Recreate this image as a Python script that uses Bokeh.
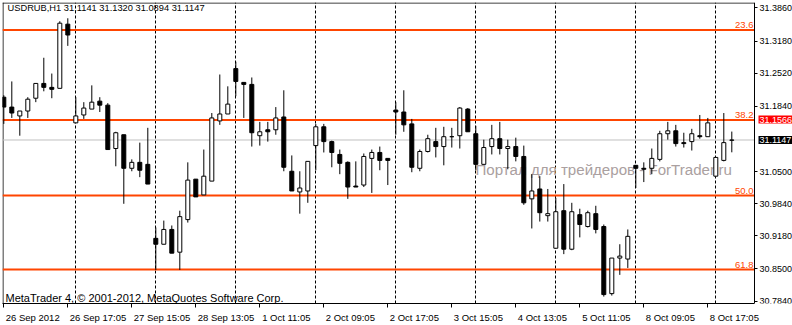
import numpy as np
from bokeh.plotting import figure
from bokeh.models import FixedTicker, Label, Range1d
from bokeh.embed import file_html
from bokeh.resources import INLINE

# ---------------- data ----------------
header = "USDRUB,H1  31.1141 31.1320 31.0894 31.1147"
copyright_text = "MetaTrader 4, \u00a9 2001-2012, MetaQuotes Software Corp."
watermark = "Портал для трейдеров - ForTrader.ru"

opens = [31.2026, 31.1823, 31.1641, 31.1742, 31.2005, 31.2309, 31.2228, 31.2208, 31.3526, 31.1499,
         31.1661, 31.1782, 31.1945, 31.1863, 31.0972, 31.1255, 31.0566, 31.0688, 31.0647, 30.9127,
         30.9006, 30.9310, 30.8843, 30.9512, 31.0343, 31.0019, 31.0303, 31.1539, 31.1681, 31.2613,
         31.2330, 31.2289, 31.1235, 31.1357, 31.1357, 31.1620, 31.0505, 31.0080, 31.0100, 31.1032,
         31.1418, 31.1114, 31.0850, 31.0688, 31.0201, 31.0222, 31.0769, 31.0891, 31.0769, 31.1762,
         31.1722, 31.1478, 31.0566, 31.0911, 31.1114, 31.1012, 31.1215, 31.1235, 31.1782, 31.1276,
         31.0647, 31.1012, 31.1174, 31.0972, 31.1012, 31.0809, 30.9938, 31.0141, 30.9593, 30.8924,
         30.9695, 30.8904, 30.9614, 30.9370, 30.9634, 30.9370, 30.7992, 30.8722, 30.8702, 31.0627,
         31.0566, 31.0566, 31.0749, 31.1276, 31.1336, 31.1093, 31.1114, 31.1235, 31.1215, 31.0404,
         31.0728, 31.1141]
highs = [31.2066, 31.2350, 31.1742, 31.2026, 31.2309, 31.2836, 31.2512, 31.3586, 31.3647, 31.2026,
         31.1924, 31.2269, 31.2026, 31.1904, 31.1316, 31.1255, 31.0749, 31.1093, 31.1397, 30.9350,
         30.9492, 30.9391, 30.9695, 31.0688, 31.0343, 31.0951, 31.1701, 31.2492, 31.2249, 31.2755,
         31.2330, 31.2431, 31.1519, 31.1519, 31.1823, 31.2168, 31.0830, 31.0505, 31.0708, 31.1478,
         31.1478, 31.1134, 31.0951, 31.0708, 31.0708, 31.0870, 31.0951, 31.1012, 31.0769, 31.1924,
         31.2168, 31.1580, 31.0951, 31.1255, 31.1397, 31.1418, 31.1397, 31.1823, 31.1803, 31.1438,
         31.1154, 31.1458, 31.1519, 31.1154, 31.1195, 31.1032, 31.0445, 31.0404, 31.0141, 30.9958,
         31.0242, 30.9857, 30.9735, 30.9695, 30.9796, 30.9411, 30.8722, 30.9006, 30.9310, 31.0627,
         31.0688, 31.0972, 31.1336, 31.1519, 31.1458, 31.1296, 31.1377, 31.1661, 31.1600, 31.0789,
         31.1701, 31.1320]
lows = [31.1478, 31.1600, 31.1235, 31.1600, 31.1924, 31.2147, 31.2005, 31.2208, 31.3080, 31.1499,
        31.1580, 31.1782, 31.1722, 31.0951, 31.0607, 30.9837, 31.0505, 31.0384, 31.0242, 30.8479,
        30.9006, 30.8823, 30.8479, 30.9451, 30.9978, 31.0019, 31.0303, 31.1458, 31.1681, 31.2046,
        31.1600, 31.1012, 31.1032, 31.1114, 31.1255, 31.0505, 31.0100, 30.9634, 30.9857, 31.0526,
        31.0891, 31.0587, 31.0445, 30.9938, 31.0181, 31.0181, 31.0060, 31.0526, 31.0222, 31.1255,
        31.1316, 31.0485, 31.0505, 31.0891, 31.0789, 31.0627, 31.0992, 31.0972, 31.1316, 31.0526,
        31.0647, 31.0850, 31.0850, 31.0546, 31.0708, 30.9816, 30.9330, 30.9472, 30.9472, 30.8924,
        30.8803, 30.8884, 30.9147, 30.9350, 30.9229, 30.7931, 30.7952, 30.8377, 30.8519, 31.0161,
        31.0283, 31.0445, 31.0708, 31.1154, 31.1012, 31.0992, 31.0931, 31.1174, 31.1215, 31.0404,
        31.0708, 31.0894]
closes = [31.1823, 31.1701, 31.1742, 31.1985, 31.2309, 31.2228, 31.2188, 31.3546, 31.3303, 31.1641,
          31.1803, 31.1924, 31.1863, 31.0951, 31.1296, 31.0566, 31.0688, 31.0526, 31.0242, 30.9006,
          30.9310, 30.8823, 30.9573, 31.0323, 30.9978, 31.0404, 31.1600, 31.1681, 31.1884, 31.2350,
          31.2289, 31.1296, 31.1316, 31.1316, 31.1600, 31.0587, 31.0100, 31.0161, 31.0708, 31.1418,
          31.1114, 31.0891, 31.0668, 31.0181, 31.0181, 31.0809, 31.0891, 31.0728, 31.0728, 31.1722,
          31.1458, 31.0587, 31.0911, 31.1174, 31.1012, 31.1215, 31.1215, 31.1803, 31.1316, 31.0647,
          31.0992, 31.1174, 31.0972, 31.1012, 31.0809, 30.9857, 31.0100, 30.9654, 30.9634, 30.9674,
          30.8904, 30.9674, 30.9411, 30.9654, 30.9310, 30.7972, 30.8722, 30.8762, 30.9168, 31.0566,
          31.0546, 31.0769, 31.1276, 31.1336, 31.1073, 31.1073, 31.1276, 31.1215, 31.1499, 31.0789,
          31.1093, 31.1147]

time_tick_bars = [0, 8, 16, 24, 32, 40, 48, 56, 64, 72, 80, 88]
time_tick_labels = ["26 Sep 2012", "26 Sep 17:05", "27 Sep 15:05", "28 Sep 13:05", "1 Oct 11:05",
                    "2 Oct 09:05", "2 Oct 17:05", "3 Oct 15:05", "4 Oct 13:05", "5 Oct 11:05",
                    "8 Oct 09:05", "8 Oct 17:05"]
price_ticks = [30.784, 30.850, 30.918, 30.984, 31.050, 31.184, 31.252, 31.318, 31.386]
fib_names = ["23.6", "38.2", "50.0", "61.8"]
fib_levels = [31.3404, 31.1556, 31.0005, 30.8485]
grid_bars = [9, 19, 29, 39, 49, 59, 69, 79, 89]
bid_price = 31.1147
hline_price = 31.1566

# ---------------- layout constants ----------------
FONT = "Liberation Sans"
FS = "9.5px"
AXIS_FS = "9px"
BAR_PX = 8.0          # pixels per bar
W_TOTAL, H_TOTAL = 792, 325
LEFT, TOP, BOTTOM_AXIS = 2, 2, 18
CHART_W = 752         # chart area width (price scale sits right of it)
FRAME_W = W_TOTAL - LEFT
FRAME_H = H_TOTAL - TOP - BOTTOM_AXIS

x0 = -1.3 / BAR_PX
x_end = x0 + FRAME_W / BAR_PX
x_axis = x0 + CHART_W / BAR_PX          # where the price scale line is
y0, y1 = 30.7789, 31.3971
px_y = (y1 - y0) / FRAME_H

n = len(opens)
x = np.arange(n)
o = np.array(opens); h = np.array(highs); l = np.array(lows); c = np.array(closes)
up = c >= o
dn = ~up

p = figure(width=W_TOTAL, height=H_TOTAL, output_backend="svg", toolbar_location=None,
           x_range=Range1d(x0, x_end), y_range=Range1d(y0, y1), y_axis_location="right",
           min_border_left=LEFT, min_border_top=TOP, min_border_right=0, min_border_bottom=0,
           background_fill_color="white", border_fill_color="white")
p.outline_line_color = None
p.ygrid.visible = False
p.xgrid.ticker = FixedTicker(ticks=grid_bars)
p.xgrid.grid_line_color = "black"
p.xgrid.grid_line_dash = "3 2"
p.xgrid.grid_line_width = 1

# chart borders (left and top)
p.segment(x0=[x0 + 0.5 / BAR_PX], y0=[y0], x1=[x0 + 0.5 / BAR_PX], y1=[y1], line_color="black", line_width=1)
p.segment(x0=[x0], y0=[y1 - 0.5 * px_y], x1=[x_axis], y1=[y1 - 0.5 * px_y], line_color="black", line_width=1)

# watermark (behind candles)
p.add_layout(Label(x=473, y=134, x_units="screen", y_units="screen", text=watermark,
                   text_font=FONT, text_font_size="15.1px", text_color="#aaa0a0",
                   text_baseline="middle", level="underlay"))

# horizontal levels, ending at the price scale
nl = len(fib_levels)
p.segment(x0=[x0] * nl, y0=fib_levels, x1=[x_axis] * nl, y1=fib_levels, line_color="#FF4500", line_width=2)
p.segment(x0=[x0], y0=[bid_price], x1=[x_axis], y1=[bid_price], line_color="#C0C0C0", line_width=1)

# candles
p.segment(x[up], h[up], x[up], l[up], line_color="black", line_width=1)
p.segment(x[dn], h[dn], x[dn], l[dn], line_color="black", line_width=1)
p.vbar(x=x[up], width=0.5, top=c[up], bottom=o[up], fill_color="white", line_color="black", line_width=1)
p.vbar(x=x[dn], width=0.5, top=o[dn], bottom=c[dn], fill_color="black", line_color="black", line_width=1)

# fib labels
for name, lev in zip(fib_names, fib_levels):
    p.add_layout(Label(x=x_axis, y=lev, x_offset=-1, y_offset=2, text=name, text_align="right",
                       text_baseline="bottom", text_font=FONT, text_font_size=FS, text_color="#FF4500"))

# header / footer texts
p.add_layout(Label(x=5, y=FRAME_H - 9, x_units="screen", y_units="screen", text=header, text_font=FONT,
                   text_font_size="9.3px", text_color="black", text_baseline="middle"))
p.add_layout(Label(x=3, y=6, x_units="screen", y_units="screen", text=copyright_text, text_font=FONT,
                   text_font_size="11px", text_color="black", text_baseline="middle"))

# price scale: fixed at the chart's right edge
ya = p.yaxis[0]
ya.fixed_location = x_axis
ya.ticker = FixedTicker(ticks=price_ticks)
ya.major_label_overrides = {t: f"{t:.4f}" for t in price_ticks}
ya.major_label_text_font = FONT
ya.major_label_text_font_size = AXIS_FS
ya.major_label_text_color = "black"
ya.major_tick_out = 3
ya.major_tick_in = 0
ya.minor_tick_out = 0
ya.minor_tick_in = 0
ya.major_label_standoff = 2
ya.axis_line_color = "black"

# price boxes on the price scale
for price, bg in ((hline_price, "#FF0000"), (bid_price, "black")):
    p.add_layout(Label(x=x_axis, y=price, x_offset=4, text=f"{price:.4f}",
                       text_font=FONT, text_font_size=AXIS_FS, text_color="white",
                       text_baseline="middle", background_fill_color=bg, padding=1))

# x axis: labels left-aligned at tick positions (shift centre by half estimated width)
W = {" ": 0.278, ":": 0.278, "S": 0.667, "O": 0.778, "e": 0.556, "p": 0.556, "c": 0.5, "t": 0.278}
def text_w(s):
    return sum(W.get(ch, 0.556) for ch in s) * 9.5

label_pos = [b + (text_w(s) / 2 + 2) / BAR_PX for b, s in zip(time_tick_bars, time_tick_labels)]
xa = p.xaxis[0]
xa.bounds = (x0, x_axis)
xa.ticker = FixedTicker(ticks=label_pos, minor_ticks=time_tick_bars)
xa.major_label_overrides = {pos: s for pos, s in zip(label_pos, time_tick_labels)}
xa.major_label_text_font = FONT
xa.major_label_text_font_size = FS
xa.major_label_text_color = "black"
xa.major_tick_out = 0
xa.major_tick_in = 0
xa.minor_tick_out = 4
xa.minor_tick_in = 0
xa.minor_tick_line_color = "black"
xa.major_label_standoff = 4
xa.axis_line_color = "black"

open("out.html", "w").write(file_html(p, INLINE))
